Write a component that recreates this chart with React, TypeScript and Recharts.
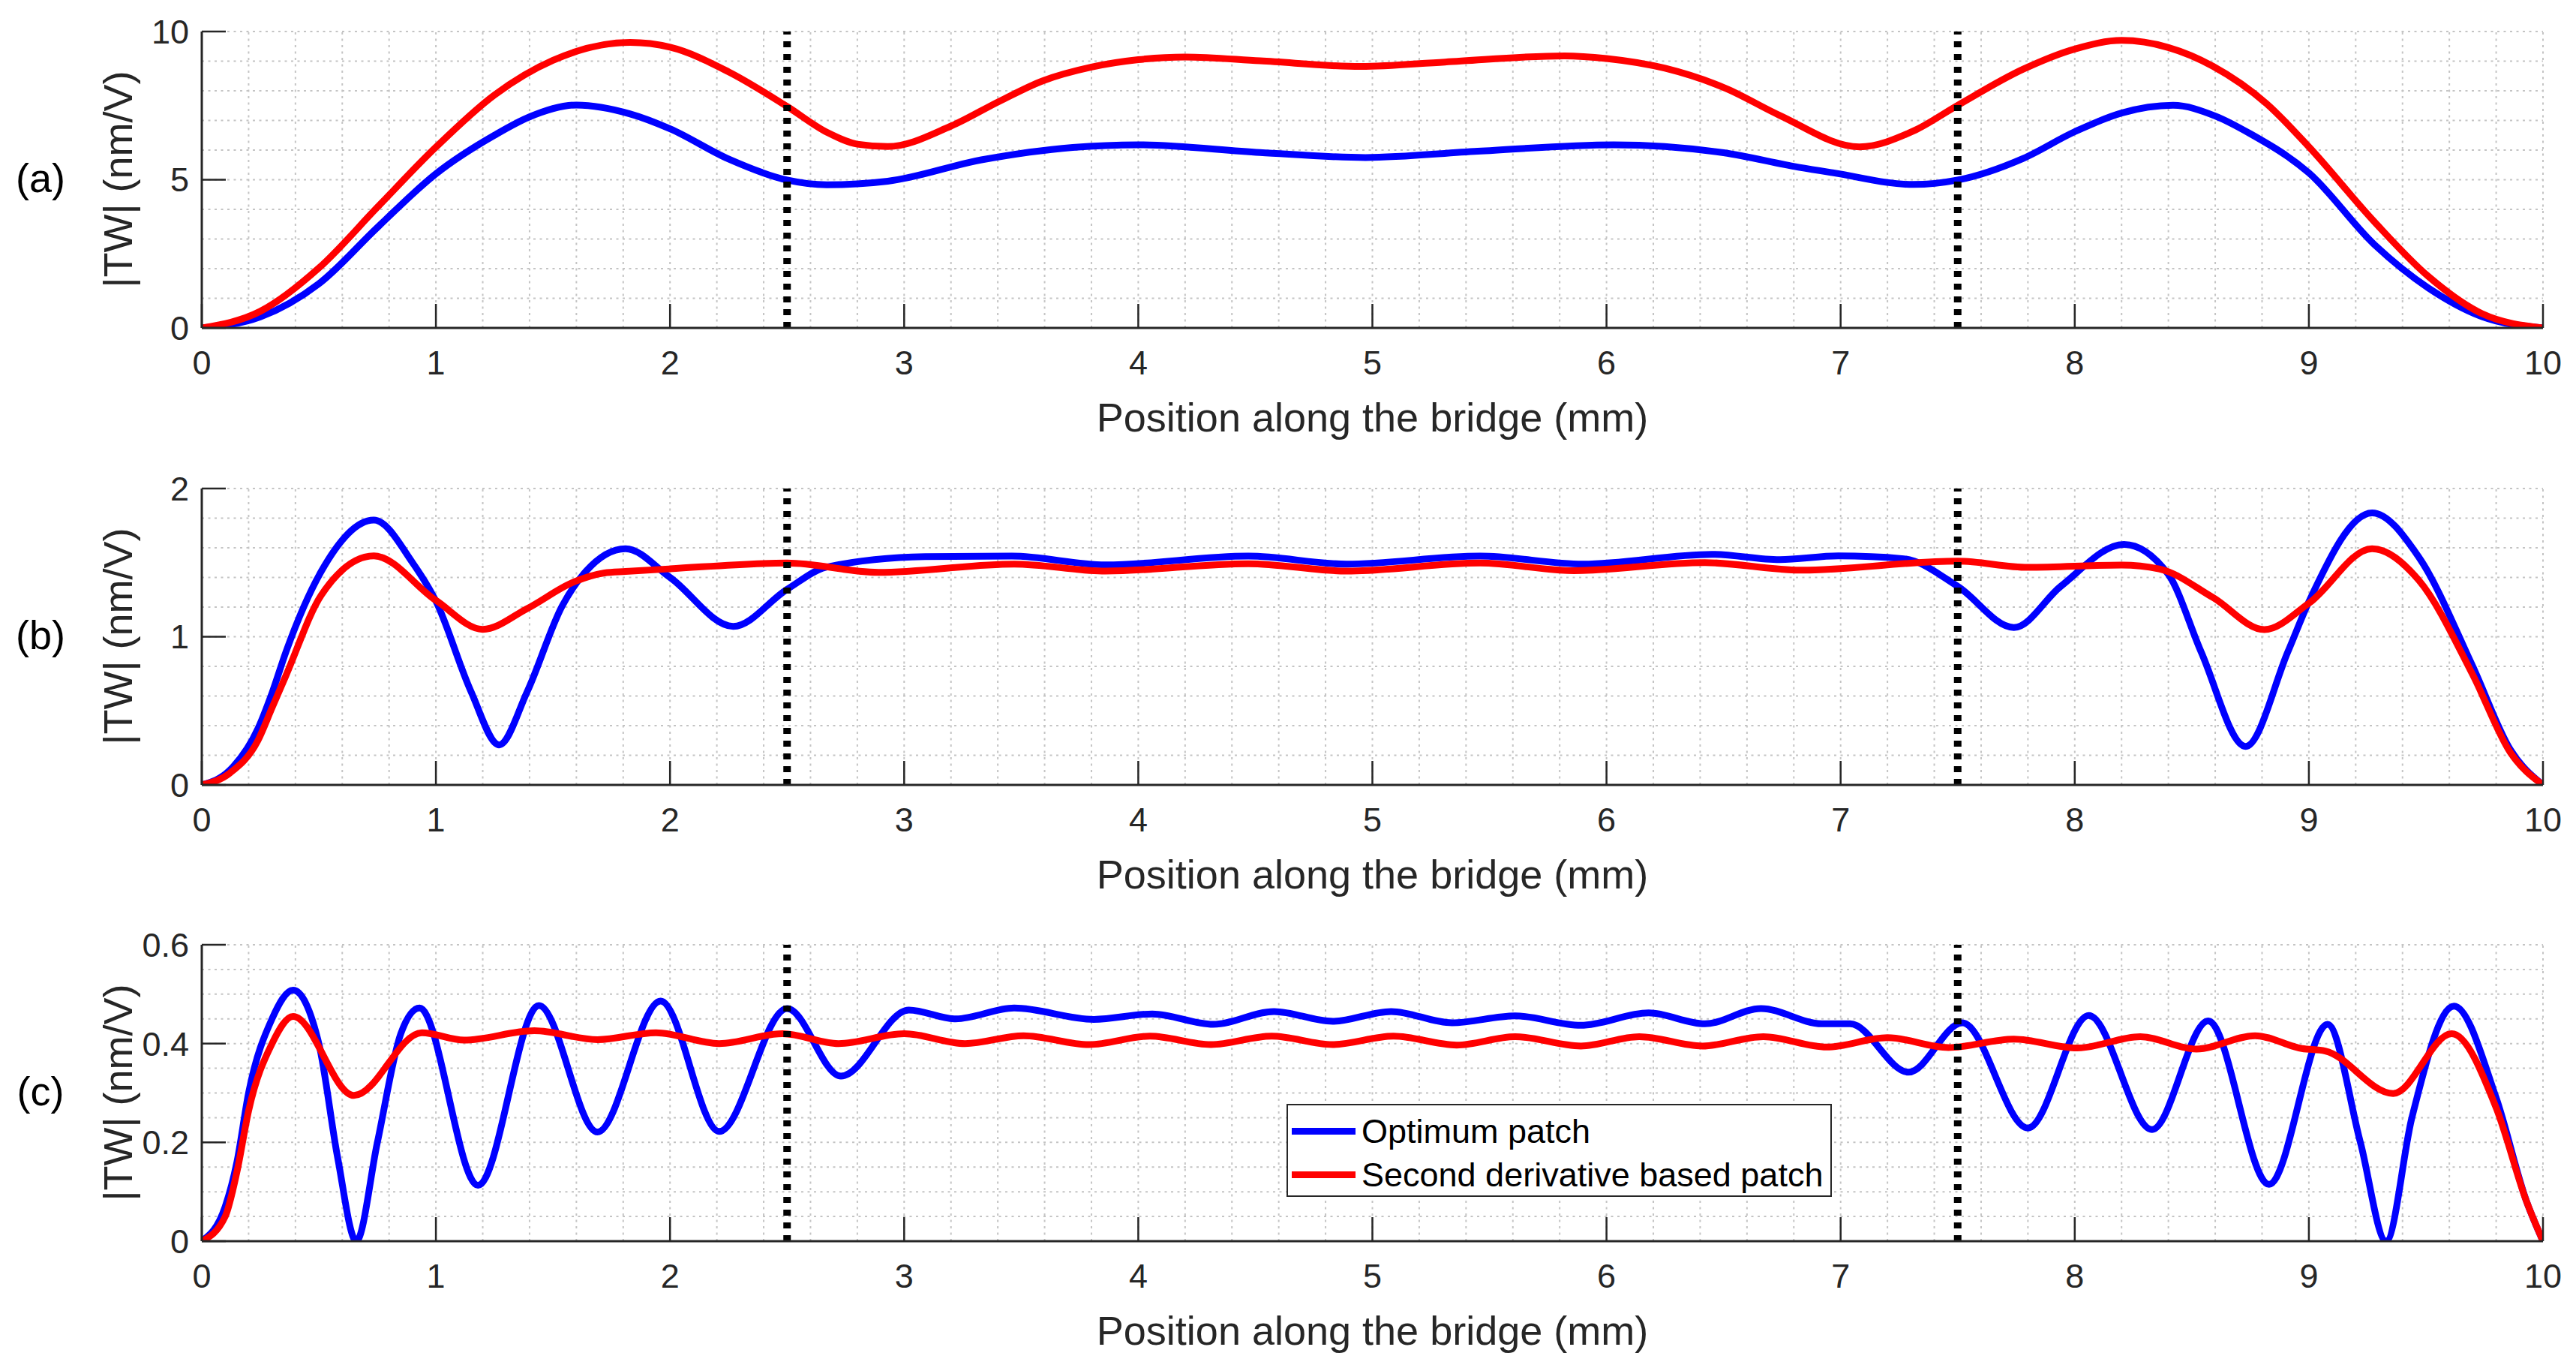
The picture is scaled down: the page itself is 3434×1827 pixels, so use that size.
import { LineChart, Line, XAxis, YAxis, ReferenceLine, Legend } from 'recharts'

// x axis (shared by all three panels)
const xTicks = [0, 1, 2, 3, 4, 5, 6, 7, 8, 9, 10]
const xGrid = [
  0, 0.2, 0.4, 0.6, 0.8, 1, 1.2, 1.4, 1.6, 1.8, 2, 2.2, 2.4, 2.6, 2.8, 3, 3.2, 3.4, 3.6, 3.8, 4,
  4.2, 4.4, 4.6, 4.8, 5, 5.2, 5.4, 5.6, 5.8, 6, 6.2, 6.4, 6.6, 6.8, 7, 7.2, 7.4, 7.6, 7.8, 8,
  8.2, 8.4, 8.6, 8.8, 9, 9.2, 9.4, 9.6, 9.8, 10,
]
const boundaries = [2.5, 7.5]

// panel (a)
const aTicks = [0, 5, 10]
const aGrid = [0, 1, 2, 3, 4, 5, 6, 7, 8, 9, 10]
const aOptX = [0, 0.25, 0.5, 0.75, 1, 1.25, 1.4, 1.6, 1.83, 2, 2.25, 2.5, 2.67, 2.93, 3.33, 3.72, 4, 4.52, 4.97, 5.45, 6.03, 6.5, 6.82, 6.97, 7.31, 7.5, 7.78, 8, 8.2, 8.42, 8.6, 8.75, 9, 9.28, 9.51, 9.74, 10]
const aOptY = [0, 0.37, 1.49, 3.39, 5.2, 6.5, 7.12, 7.52, 7.22, 6.72, 5.7, 4.99, 4.83, 4.95, 5.67, 6.09, 6.18, 5.92, 5.75, 5.96, 6.18, 5.91, 5.42, 5.23, 4.84, 4.99, 5.72, 6.62, 7.25, 7.51, 7.15, 6.55, 5.23, 2.81, 1.35, 0.38, 0]
const aSecX = [0, 0.25, 0.5, 0.75, 1, 1.25, 1.5, 1.83, 2, 2.25, 2.5, 2.67, 2.8, 2.93, 3.2, 3.41, 3.59, 3.8, 4, 4.2, 4.52, 4.95, 5.31, 5.82, 6, 6.25, 6.51, 6.74, 7.08, 7.31, 7.5, 7.78, 8, 8.2, 8.4, 8.59, 8.82, 9, 9.28, 9.51, 9.74, 10]
const aSecY = [0, 0.56, 2.02, 4.07, 6.1, 7.86, 9.03, 9.63, 9.47, 8.64, 7.47, 6.6, 6.2, 6.12, 6.81, 7.66, 8.33, 8.8, 9.05, 9.14, 9.01, 8.82, 8.97, 9.18, 9.09, 8.76, 8.08, 7.17, 6.11, 6.64, 7.51, 8.73, 9.41, 9.7, 9.46, 8.83, 7.56, 6.11, 3.58, 1.74, 0.48, 0]

// panel (b)
const bTicks = [0, 1, 2]
const bGrid = [0, 0.2, 0.4, 0.6, 0.8, 1, 1.2, 1.4, 1.6, 1.8, 2]
const bOptX = [0, 0.12, 0.24, 0.3, 0.36, 0.51, 0.735, 0.9, 1, 1.15, 1.27, 1.39, 1.54, 1.64, 1.81, 2, 2.27, 2.5, 2.67, 3.09, 3.46, 3.86, 4.47, 4.89, 5.46, 5.9, 6.45, 6.74, 6.99, 7.27, 7.5, 7.74, 7.94, 8.21, 8.4, 8.54, 8.73, 8.91, 9, 9.27, 9.47, 9.7, 9.86, 10]
const bOptY = [0, 0.1, 0.38, 0.62, 0.9, 1.44, 1.787, 1.5, 1.24, 0.63, 0.27, 0.63, 1.21, 1.44, 1.594, 1.4, 1.07, 1.32, 1.47, 1.54, 1.544, 1.485, 1.544, 1.49, 1.544, 1.49, 1.556, 1.52, 1.545, 1.526, 1.34, 1.062, 1.34, 1.623, 1.42, 0.897, 0.26, 0.897, 1.236, 1.836, 1.536, 0.8, 0.24, 0]
const bSecX = [0, 0.12, 0.24, 0.3, 0.36, 0.51, 0.735, 1, 1.2, 1.39, 1.59, 1.72, 1.81, 2, 2.5, 2.89, 3.47, 3.86, 4.47, 4.89, 5.46, 5.86, 6.42, 6.83, 7.5, 7.8, 8.2, 8.36, 8.59, 8.81, 9, 9.27, 9.47, 9.7, 9.86, 10]
const bSecY = [0, 0.08, 0.3, 0.52, 0.74, 1.28, 1.545, 1.245, 1.05, 1.19, 1.37, 1.43, 1.44, 1.458, 1.497, 1.434, 1.49, 1.443, 1.493, 1.443, 1.497, 1.446, 1.5, 1.449, 1.51, 1.468, 1.484, 1.458, 1.265, 1.048, 1.226, 1.594, 1.38, 0.743, 0.22, 0]

// panel (c)
const cTicks = [0, 0.2, 0.4, 0.6]
const cGrid = [0, 0.05, 0.1, 0.15, 0.2, 0.25, 0.3, 0.35, 0.4, 0.45, 0.5, 0.55, 0.6]
const cOptX = [0, 0.1, 0.15, 0.2, 0.3, 0.39, 0.5, 0.58, 0.66, 0.75, 0.85, 0.93, 1.18, 1.44, 1.69, 1.96, 2.21, 2.5, 2.73, 3.02, 3.22, 3.47, 3.81, 4.06, 4.32, 4.58, 4.83, 5.08, 5.34, 5.61, 5.89, 6.18, 6.42, 6.66, 6.92, 7.04, 7.29, 7.52, 7.8, 8.06, 8.33, 8.57, 8.83, 9.08, 9.22, 9.33, 9.44, 9.62, 9.8, 9.93, 10]
const cOptY = [0, 0.07, 0.16, 0.3, 0.45, 0.508, 0.4, 0.17, 0, 0.2, 0.42, 0.472, 0.113, 0.477, 0.221, 0.486, 0.222, 0.471, 0.334, 0.468, 0.45, 0.472, 0.449, 0.46, 0.439, 0.465, 0.445, 0.465, 0.442, 0.456, 0.437, 0.462, 0.44, 0.471, 0.44, 0.44, 0.342, 0.442, 0.229, 0.457, 0.226, 0.446, 0.115, 0.439, 0.2, 0, 0.25, 0.476, 0.29, 0.08, 0]
const cSecX = [0, 0.1, 0.15, 0.2, 0.3, 0.39, 0.65, 0.94, 1.12, 1.42, 1.69, 1.94, 2.21, 2.48, 2.72, 3, 3.26, 3.51, 3.79, 4.05, 4.31, 4.57, 4.83, 5.09, 5.36, 5.61, 5.89, 6.14, 6.41, 6.67, 6.94, 7.2, 7.46, 7.74, 8.01, 8.28, 8.52, 8.77, 8.97, 9.07, 9.36, 9.61, 9.8, 9.93, 10]
const cSecY = [0, 0.05, 0.14, 0.264, 0.4, 0.455, 0.295, 0.422, 0.407, 0.426, 0.408, 0.422, 0.4, 0.42, 0.4, 0.42, 0.4, 0.416, 0.398, 0.415, 0.398, 0.415, 0.398, 0.415, 0.397, 0.414, 0.395, 0.414, 0.395, 0.414, 0.393, 0.412, 0.392, 0.409, 0.391, 0.414, 0.389, 0.416, 0.39, 0.385, 0.299, 0.42, 0.27, 0.08, 0]

const FONT = "'Liberation Sans', Arial, sans-serif"
const AXIS = '#262626'
const GRID = '#c4c4c4'
const W = 3434
const H = 610

const pts = (xs: number[], ys: number[]) => xs.map((x, i) => ({ x, y: ys[i] }))

function LegendBox({ payload }: any) {
  return (
    <div
      style={{
        position: 'relative',
        width: 727,
        height: 124,
        boxSizing: 'border-box',
        border: `2px solid ${AXIS}`,
        background: '#fff',
        fontFamily: FONT,
      }}
    >
      {(payload || []).map((p: any, i: number) => (
        <div
          key={p.value}
          style={{ position: 'absolute', left: 5, top: 9 + i * 58, height: 50, display: 'flex', alignItems: 'center' }}
        >
          <div style={{ width: 85, height: 9, background: p.color }} />
          <span style={{ marginLeft: 8, fontSize: 45, lineHeight: 1, color: '#000', whiteSpace: 'nowrap' }}>{p.value}</span>
        </div>
      ))}
    </div>
  )
}

function Panel({ top, letter, yMax, yTicks, yGrid, opt, sec, legend }: any) {
  return (
    <div style={{ position: 'absolute', left: 0, top, width: W, height: H }}>
      <LineChart width={W} height={H} margin={{ top: 42, right: 44, bottom: 113, left: 209 }} style={{ fontFamily: FONT }}>
        {xGrid.map((v) => (
          <ReferenceLine key={'gx' + v} x={v} stroke={GRID} strokeWidth={2} strokeDasharray="3 5.5" />
        ))}
        {yGrid.map((v: number) => (
          <ReferenceLine key={'gy' + v} y={v} stroke={GRID} strokeWidth={2} strokeDasharray="3 5.5" />
        ))}
        <XAxis
          type="number"
          dataKey="x"
          domain={[0, 10]}
          ticks={xTicks}
          interval={0}
          allowDataOverflow
          height={60}
          tickSize={-32}
          tickMargin={62}
          stroke={AXIS}
          axisLine={{ strokeWidth: 3 }}
          tickLine={{ strokeWidth: 2.5 }}
          tick={{ fontSize: 45, fill: AXIS }}
          label={{ value: 'Position along the bridge (mm)', position: 'bottom', offset: 40, fontSize: 54, fill: AXIS }}
        />
        <XAxis
          xAxisId="top"
          orientation="top"
          type="number"
          domain={[0, 10]}
          ticks={xTicks}
          interval={0}
          height={0}
          tick={false}
          tickSize={-32}
          stroke={AXIS}
          axisLine={{ strokeWidth: 3 }}
          tickLine={{ strokeWidth: 2.5 }}
        />
        <YAxis
          type="number"
          domain={[0, yMax]}
          ticks={yTicks}
          interval={0}
          allowDataOverflow
          width={60}
          tickSize={-32}
          tickMargin={49}
          stroke={AXIS}
          axisLine={{ strokeWidth: 3 }}
          tickLine={{ strokeWidth: 2.5 }}
          tick={{ fontSize: 45, fill: AXIS }}
        />
        <YAxis
          yAxisId="right"
          orientation="right"
          type="number"
          domain={[0, yMax]}
          ticks={yTicks}
          interval={0}
          width={0}
          tick={false}
          tickSize={-32}
          stroke={AXIS}
          axisLine={{ strokeWidth: 3 }}
          tickLine={{ strokeWidth: 2.5 }}
        />
        <Line data={opt} dataKey="y" name="Optimum patch" type="monotone" stroke="#0000ff" strokeWidth={9} dot={false} isAnimationActive={false} />
        <Line data={sec} dataKey="y" name="Second derivative based patch" type="monotone" stroke="#ff0000" strokeWidth={9} dot={false} isAnimationActive={false} />
        {boundaries.map((v) => (
          <ReferenceLine key={'b' + v} x={v} stroke="#000" strokeWidth={10} strokeDasharray="8 9" />
        ))}
        {legend && (
          <Legend
            layout="horizontal"
            verticalAlign="middle"
            wrapperStyle={{ left: 1715, top: 254, width: 727, height: 124 }}
            content={(props: any) => <LegendBox payload={props.payload} />}
          />
        )}
      </LineChart>
      <div
        style={{
          position: 'absolute',
          left: 157,
          top: 239,
          transform: 'translate(-50%, -50%) rotate(-90deg)',
          fontSize: 54,
          lineHeight: 1,
          whiteSpace: 'nowrap',
          color: AXIS,
          fontFamily: FONT,
        }}
      >
        |TW| (nm/V)
      </div>
      <div
        style={{
          position: 'absolute',
          left: 54,
          top: 237,
          transform: 'translate(-50%, -50%)',
          fontSize: 54,
          lineHeight: 1,
          whiteSpace: 'nowrap',
          color: '#000',
          fontFamily: FONT,
        }}
      >
        {letter}
      </div>
    </div>
  )
}

export default function App() {
  return (
    <div style={{ position: 'absolute', left: 0, top: 0, width: W, height: 1827, background: '#fff', fontFamily: FONT }}>
      <Panel top={0} letter="(a)" yMax={10} yTicks={aTicks} yGrid={aGrid} opt={pts(aOptX, aOptY)} sec={pts(aSecX, aSecY)} />
      <Panel top={609} letter="(b)" yMax={2} yTicks={bTicks} yGrid={bGrid} opt={pts(bOptX, bOptY)} sec={pts(bSecX, bSecY)} />
      <Panel top={1217} letter="(c)" yMax={0.6} yTicks={cTicks} yGrid={cGrid} opt={pts(cOptX, cOptY)} sec={pts(cSecX, cSecY)} legend />
    </div>
  )
}
